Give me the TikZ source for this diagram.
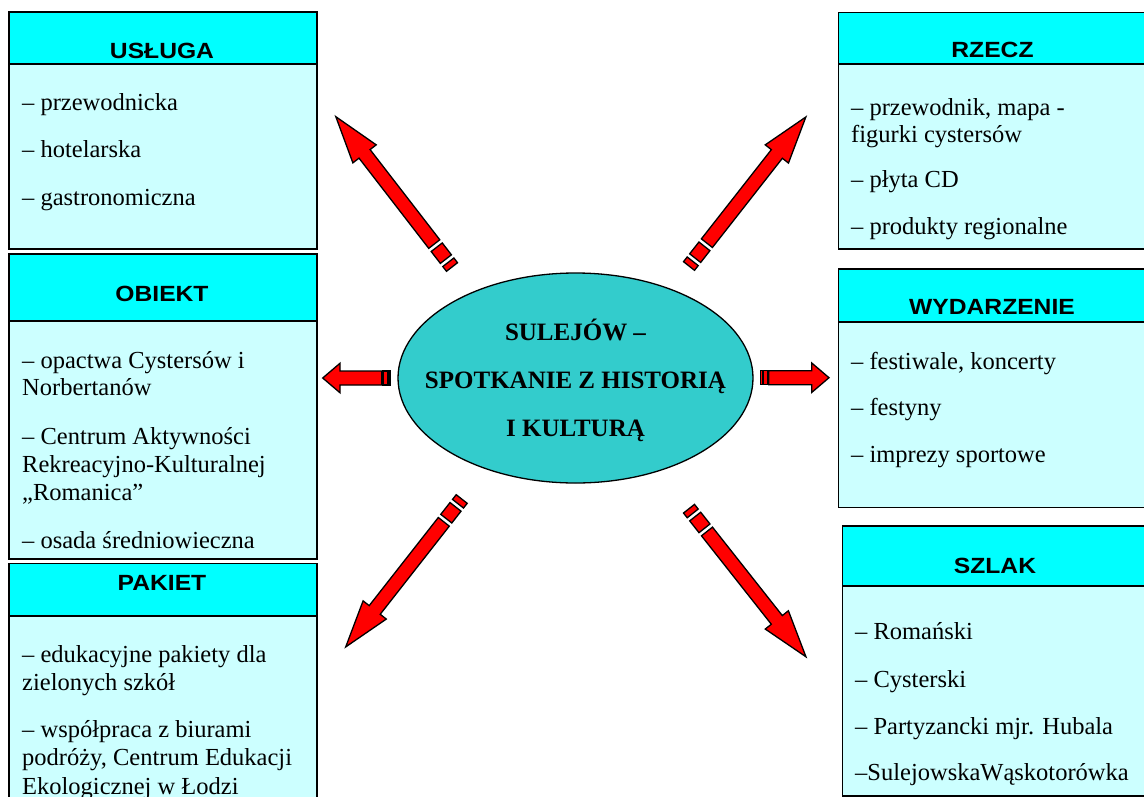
\documentclass[tikz,border=0pt]{standalone}
\usepackage{fontspec}
\setmainfont{Liberation Serif}
\newfontfamily\titlefont[FakeStretch=1.12]{Liberation Sans}
\usetikzlibrary{shapes.geometric,positioning,calc}
\definecolor{headcyan}{HTML}{00FFFF}
\definecolor{bodycyan}{HTML}{CCFFFF}
\definecolor{ovalteal}{HTML}{33CCCC}

\tikzset{
  box/.style={draw=black, line width=1.5pt, fill=bodycyan, anchor=north west, inner sep=0pt},
  head/.style={draw=black, line width=1.5pt, fill=headcyan, anchor=north west, inner sep=0pt},
  title/.style={inner sep=0pt, font=\titlefont\bfseries\fontsize{22}{26}\selectfont},
  item/.style={anchor=mid west, inner sep=0pt, yshift=-5pt, font=\fontsize{24.5}{28}\selectfont},
  arrowfill/.style={draw=black, line width=1.3pt, fill=red, line join=miter},
}

% tail, angle, length, head length, stripe scale
\newcommand{\stripedarrow}[5]{%
  \begin{scope}[shift={(#1)}, rotate=#2]
    \draw[arrowfill] (0,-7) rectangle ({6*#5},7);
    \draw[arrowfill] ({10*#5},-7) rectangle ({25*#5},7);
    \draw[arrowfill] ({29*#5},-7) -- ({#3-#4},-7) -- ({#3-#4},-14.75) -- (#3,0)
      -- ({#3-#4},14.75) -- ({#3-#4},7) -- ({29*#5},7) -- cycle;
  \end{scope}}

\begin{document}
\begin{tikzpicture}[x=1pt, y=-1pt]
    \useasboundingbox (0,0) rectangle (1144,796);
    \clip (0,0) rectangle (1144,796);

    \node[box, minimum width=308pt, minimum height=237pt] (uslugaBox) at (8,11) {};
    \node[head, minimum width=308pt, minimum height=52pt] (uslugaHead) at (8,11) {};
    \node[title] (uslugaTitle) at (162,51) {USŁUGA};
    \node[item] (uslugaA) at (22,103) {– przewodnicka};
    \node[item] (uslugaB) at (22,150) {– hotelarska};
    \node[item] (uslugaC) at (22,198) {– gastronomiczna};

    \node[box, minimum width=308pt, minimum height=305pt] (obiektBox) at (8,253) {};
    \node[head, minimum width=308pt, minimum height=67pt] (obiektHead) at (8,253) {};
    \node[title] (obiektTitle) at (162,294) {OBIEKT};
    \node[item] (obiektA) at (22,361) {– opactwa Cystersów i};
    \node[item] (obiektB) at (22,388) {Norbertanów};
    \node[item] (obiektC) at (22,437) {– Centrum Aktywności};
    \node[item] (obiektD) at (22,465) {Rekreacyjno-Kulturalnej};
    \node[item] (obiektE) at (22,493) {„Romanica”};
    \node[item] (obiektF) at (22,541) {– osada średniowieczna};

    \node[box, minimum width=308pt, minimum height=260pt] (pakietBox) at (8,562.7) {};
    \node[head, minimum width=308pt, minimum height=52.5pt] (pakietHead) at (8,562.7) {};
    \node[title] (pakietTitle) at (162,583.3) {PAKIET};
    \node[item] (pakietA) at (22,655) {– edukacyjne pakiety dla};
    \node[item] (pakietB) at (22,683) {zielonych szkół};
    \node[item] (pakietC) at (22,730) {– współpraca z biurami};
    \node[item] (pakietD) at (22,758) {podróży, Centrum Edukacji};
    \node[item] (pakietE) at (22,787) {Ekologicznej w Łodzi};

    \node[box, minimum width=310pt, minimum height=236.6pt] (rzeczBox) at (837.5,11.7) {};
    \node[head, minimum width=310pt, minimum height=51.6pt] (rzeczHead) at (837.5,11.7) {};
    \node[title] (rzeczTitle) at (992.5,50) {RZECZ};
    \node[item] (rzeczA) at (851,108) {– przewodnik, mapa -};
    \node[item] (rzeczB) at (851,135) {figurki cystersów};
    \node[item] (rzeczC) at (851,180) {– płyta CD};
    \node[item] (rzeczD) at (851,227) {– produkty regionalne};

    \node[box, minimum width=310pt, minimum height=238.4pt] (wydBox) at (837.5,268.3) {};
    \node[head, minimum width=310pt, minimum height=52.7pt] (wydHead) at (837.5,268.3) {};
    \node[title] (wydTitle) at (992,306.7) {WYDARZENIE};
    \node[item] (wydA) at (851,361.7) {– festiwale, koncerty};
    \node[item] (wydB) at (851,408) {– festyny};
    \node[item] (wydC) at (851,455) {– imprezy sportowe};

    \node[box, minimum width=306pt, minimum height=270pt] (szlakBox) at (841.7,525) {};
    \node[head, minimum width=306pt, minimum height=60pt] (szlakHead) at (841.7,525) {};
    \node[title] (szlakTitle) at (995,565.7) {SZLAK};
    \node[item] (szlakA) at (855,631.7) {– Romański};
    \node[item] (szlakB) at (855,680) {– Cysterski};
    \node[item] (szlakC) at (855,726.7) {– Partyzancki mjr. Hubala};
    \node[item] (szlakD) at (855,773.3) {–SulejowskaWąskotorówka};

    \node[ellipse, draw=black, line width=1.3pt, fill=ovalteal, minimum width=355pt,
      minimum height=210pt, inner sep=0pt] (oval) at (575.5,378) {};
    \node[align=center, inner sep=0pt, font=\bfseries\fontsize{25}{48}\selectfont]
      (ovalText) at (575.5,380) {SULEJÓW –\\SPOTKANIE Z HISTORIĄ\\I KULTURĄ};

    \coordinate (ulTail) at (452,267);
    \coordinate (urTail) at (689,266);
    \coordinate (llTail) at (461.7,499);
    \coordinate (lrTail) at (689,508.7);
    \coordinate (lTail) at (390,378);
    \coordinate (rTail) at (760.7,377.7);
    \stripedarrow{ulTail}{127.7}{190}{47}{1}
    \stripedarrow{urTail}{51.9}{189.4}{47}{1}
    \stripedarrow{llTail}{231.9}{188}{47}{1}
    \stripedarrow{lrTail}{-51.7}{188.7}{47}{1}
    \stripedarrow{lTail}{180}{67.3}{17.3}{0.28}
    \stripedarrow{rTail}{0}{68.3}{17.3}{0.28}
\end{tikzpicture}
\end{document}
